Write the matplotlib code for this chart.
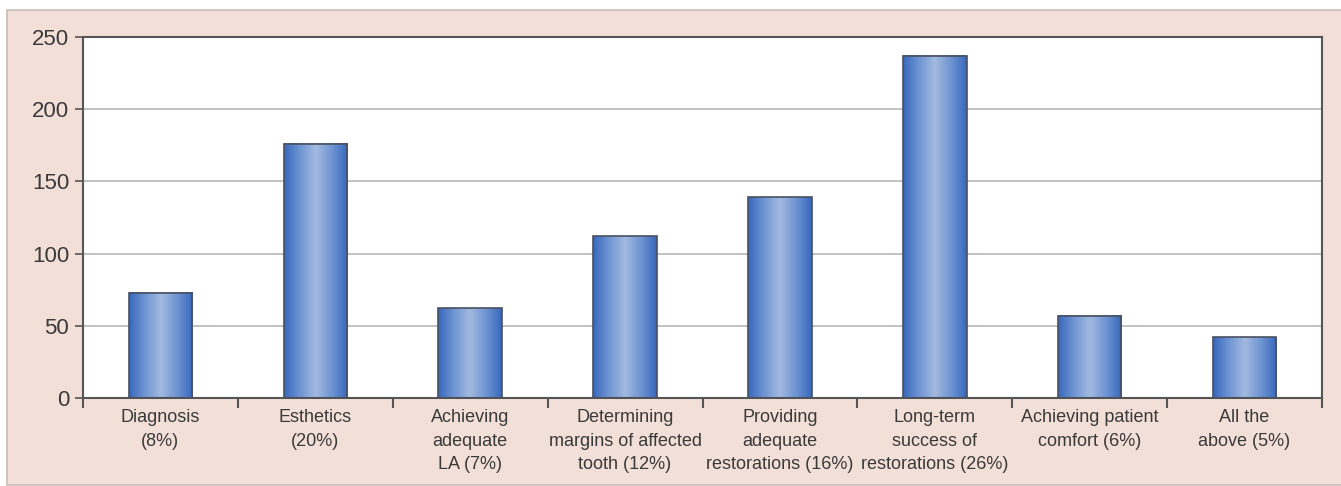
import numpy as np
import matplotlib
matplotlib.use("Agg")
import matplotlib.pyplot as plt
from matplotlib.patches import Rectangle
from matplotlib.colors import LinearSegmentedColormap
from matplotlib import font_manager

categories = [
    "Diagnosis\n(8%)",
    "Esthetics\n(20%)",
    "Achieving\nadequate\nLA (7%)",
    "Determining\nmargins of affected\ntooth (12%)",
    "Providing\nadequate\nrestorations (16%)",
    "Long-term\nsuccess of\nrestorations (26%)",
    "Achieving patient\ncomfort (6%)",
    "All the\nabove (5%)",
]
counts = [73, 176, 62, 112, 139, 237, 57, 42]
y_ticks = [0, 50, 100, 150, 200, 250]

names = {f.name for f in font_manager.fontManager.ttflist}
label_font = "Liberation Sans Narrow" if "Liberation Sans Narrow" in names else "Liberation Sans"
plt.rcParams["font.family"] = ["Liberation Sans", "DejaVu Sans"]

panel = "#f2dfd8"
text_col = "#3a3a3a"

fig = plt.figure(figsize=(13.41, 4.86), dpi=100, facecolor="white")
fig.patches.append(Rectangle((7 / 1341, 1 / 486), 1, (486 - 11) / 486,
                             transform=fig.transFigure, facecolor=panel,
                             edgecolor="#c8bcb8", linewidth=1.2, zorder=-10))

ax = fig.add_axes([83 / 1341, 88 / 486, 1239 / 1341, 361 / 486])
ax.set_facecolor("white")

x = np.arange(len(counts))
bars = ax.bar(x, counts, width=0.41, facecolor="none",
              edgecolor="#4a5060", linewidth=1.2, zorder=3)

# horizontal shading on each bar: dark blue edges, pale centre
cmap = LinearSegmentedColormap.from_list(
    "bar", ["#3868bc", "#6f95d3", "#a3badf", "#6f95d3", "#3868bc"])
grad = np.linspace(0, 1, 256).reshape(1, -1)
for b in bars:
    x0, w, h = b.get_x(), b.get_width(), b.get_height()
    ax.imshow(grad, cmap=cmap, aspect="auto", extent=(x0, x0 + w, 0, h),
              zorder=2, interpolation="bicubic")

ax.set_xlim(-0.5, len(counts) - 0.5)
ax.set_ylim(0, 250)
ax.set_yticks(y_ticks)
ax.yaxis.grid(True, color="#b8b8b8", linewidth=1.2, zorder=1)
ax.set_axisbelow(True)

ax.set_xticks(x)
ax.set_xticklabels(categories, fontsize=13, color=text_col,
                   family=label_font, linespacing=1.5, va="top")
ax.set_xticks(np.arange(len(counts) + 1) - 0.5, minor=True)
ax.tick_params(axis="x", which="major", length=0, pad=8)
ax.tick_params(axis="x", which="minor", length=7, width=1.5,
               color="#555555", direction="out")
ax.tick_params(axis="y", length=6, width=1.2, color="#555555",
               labelsize=16, labelcolor=text_col, pad=4)

for s in ax.spines.values():
    s.set_color("#555555")
    s.set_linewidth(1.5)

fig.savefig("out.png", dpi=100, facecolor=fig.get_facecolor())
